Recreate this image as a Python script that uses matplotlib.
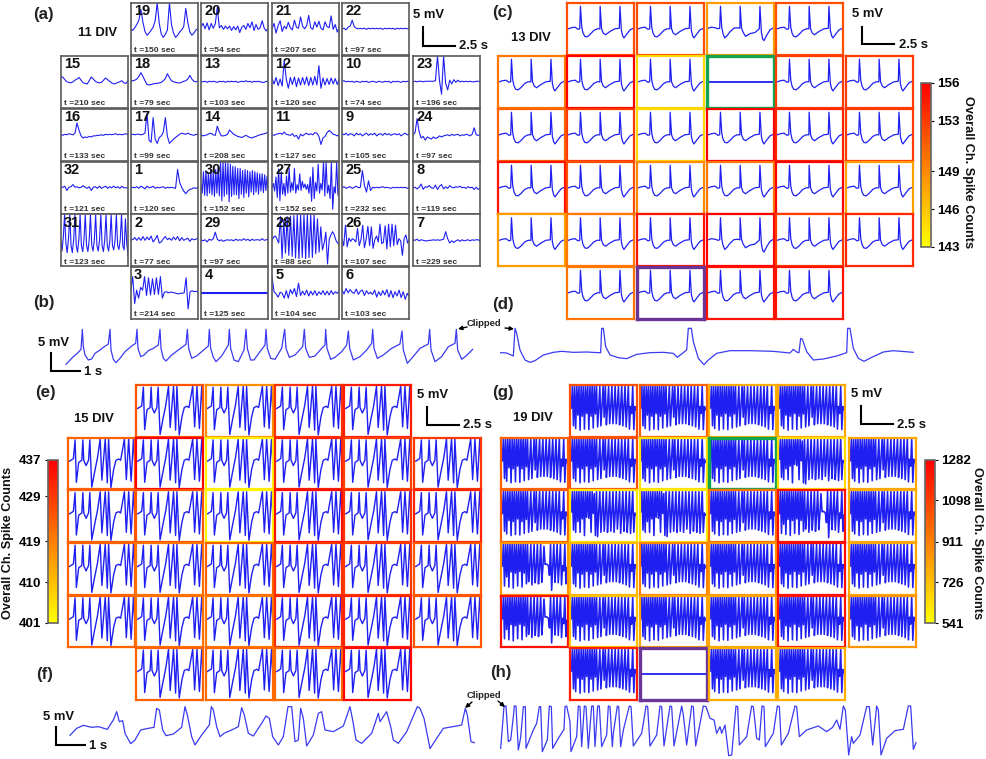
import numpy as np
import matplotlib
matplotlib.use('Agg')
import matplotlib.pyplot as plt
from matplotlib.cm import ScalarMappable
from matplotlib.colors import Normalize

plt.rcParams['font.family'] = ['Liberation Sans', 'DejaVu Sans']
plt.rcParams['font.weight'] = 'bold'

W, H = 986, 759
BLUE = '#1f1ff2'
GREEN = '#12a550'
PURPLE = '#6a3596'

# panel a - channel numbers and recording times on the 6x6 grid
a_channels = [[None, 19, 20, 21, 22, None],
              [15, 18, 13, 12, 10, 23],
              [16, 17, 14, 11, 9, 24],
              [32, 1, 30, 27, 25, 8],
              [31, 2, 29, 28, 26, 7],
              [None, 3, 4, 5, 6, None]]
a_times = {19: 150, 20: 54, 21: 207, 22: 97, 15: 210, 18: 79, 13: 103, 12: 120,
           10: 74, 23: 196, 16: 133, 17: 99, 14: 208, 11: 127, 9: 105, 24: 97,
           32: 121, 1: 120, 30: 152, 27: 152, 25: 232, 8: 119, 31: 123, 2: 77,
           29: 97, 28: 88, 26: 107, 7: 229, 3: 214, 4: 125, 5: 104, 6: 103}

a_traces = {
    19: [0,-.3,.2,.8,1.6,3.6,1.2,-.5,-1.2,-.8,-.3,.3,1.5,4.8,1,-1,-1.6,-1,-.2,4.8,.8,-.8,-1.6,-1.2,-.6,-.2,.4,3.8,1.2,-.6,-1.2,-.8,-.2,0],
    20: [.3,1,0,1.1,-.2,1,.1,.9,4,.2,.6,-.1,.5,0,.5,-.3,.4,-.2,.5,-.7,.3,.6,-.1,1,.2,1.3,-.3,.8,-.1,.2,1.5,.1,-.4,.2],
    21: [0,1,-.8,.6,1.5,-.5,.5,0,1.2,.2,-.2,1.6,.3,.1,2.2,.5,0,.6,2.5,.2,-.1,1.3,.3,1.4,.1,-.2,1.3,.4,.2,2.4,-.1,.8,-.6,.3],
    22: [0,.1,-.2,.3,.5,1.6,.4,.1,0,.1,0,.1,-.1,.1,0,.1,0,.1,0,.1,-.1,.1,0,.1,0,.1,-.1,.1,0,.1,0,.1,0,.1],
    15: [.8,.9,.4,0,-.1,-.2,0,.3,.5,.8,.3,-.2,-.3,-.4,.2,.9,.5,.1,-.1,-.2,-.1,.3,.7,.4,.1,-.2,-.4,-.3,-.1,0,.2,-.2,-.3,.2],
    18: [0,.2,.3,.5,1,1.7,1,.2,-.5,-.6,-.5,-.4,-.3,-.3,-.2,-.1,.2,.6,1.5,.8,.2,0,-.1,-.2,-.2,-.1,.1,.2,.5,1.2,.5,.1,0,.1],
    13: [.1,0,.1,-.1,.1,0,.1,0,-.1,.1,0,.1,-.1,.1,0,.1,0,.1,-.1,0,.1,0,.2,0,.1,-.1,.1,0,.1,0,-.1,-.1,.1,0],
    12: [.6,-.4,.8,-.7,.5,-.8,4,.5,-1.2,.8,-.5,.9,-.9,.7,-.6,.8,-.5,.9,-.7,.8,-.6,1,-.6,3,-1.2,.7,-.6,.6,-.5,.7,-.4,.6,-.5,.5],
    10: [.1,.2,0,.1,0,.1,-.1,.1,0,-.1,.1,0,.1,-.1,0,.1,0,-.1,.1,0,-.1,.1,0,.1,-.2,.1,0,.1,0,-.1,.1,0,.1,0],
    23: [0,.1,0,.1,.1,0,.1,.1,.1,.1,.1,.2,4.8,.2,-2.3,4.8,-.3,-1.5,.3,-.4,.4,-.1,.3,0,.1,0,.1,0,.1,0,0,.1,.1,0],
    16: [.1,-.1,.1,0,.2,.1,0,.3,2.2,.8,-.2,-.6,-.4,-.5,-.3,-.4,-.2,-.2,-.1,-.1,0,-.1,.1,0,.1,0,.1,.2,0,.1,0,.1,.2,0],
    17: [0,.1,0,.1,.1,0,.1,.3,4,-1,-1.4,3.2,-.8,-1.6,-.5,-.2,.5,3.2,-.3,-1.6,-1.2,-.8,-.5,-.2,.1,.3,.2,.1,.3,.1,0,-.1,.1,0],
    14: [0,-.2,-.1,0,.2,.3,0,-.1,1.6,.5,-.2,-.2,-.1,.1,.9,.5,.1,-.1,-.3,-.4,-.5,-.3,-.1,-.3,-.5,-.6,-.4,-.3,-.1,0,.1,.2,.3,.5],
    11: [0,-.1,.1,.2,.3,.1,.5,.1,0,-.1,.2,-.3,-.1,-.8,.1,-.2,.1,.3,0,.2,0,.4,.3,-.3,-1.8,-.6,-.3,.4,.8,.5,.1,0,-.2,0],
    9: [.2,0,.3,-.1,.2,.1,-.2,.3,0,.2,-.2,.1,.3,-.1,.2,0,.3,-.2,.1,.2,-.1,.3,0,.2,-.1,.1,.2,0,.2,-.2,.1,.3,0,.1],
    24: [0,.4,3,.6,-.6,-.3,-1,-.4,-.6,-.8,-.4,-.7,-.5,-.2,-.4,-.2,-.1,0,-.2,.1,-.1,0,.1,-.2,0,-.1,.1,0,-.2,.1,1.3,0,-.1,0],
    32: [0,.1,.3,-.5,.1,.2,.6,.1,.2,0,.1,.4,.1,-.1,.2,-.5,.1,.2,-.1,.3,-.1,.1,.3,-.1,.2,0,.3,0,.2,-.1,.3,0,0,0],
    1: [0,.1,0,.2,-.1,.3,.1,-.2,.3,0,.1,.3,-.1,.1,0,.1,.2,-.1,.1,0,.1,0,-.1,3.4,1,.1,-.6,-1.1,-.6,-.3,-.2,0,-.1,.1],
    30: [.5,-1,3,-1.4,3.2,-1.5,2.8,-1,3.3,-1.3,3,-1.6,3.4,-1,3.8,-1.5,4.8,-2.4,4.8,-1.6,4.8,-1.2,4.6,-2.6,4.4,-1.6,4,-1.3,3.9,-1.3,3.6,-2,3.6,-1.2,3.2,-1.8,3.4,-1,3.2,-1.7,3,-.8,3.2,-1.3,3,-.8,2.8,-1.2,2.6,-.6,2.6,-.9,2.4,-.5,2.2,-.6],
    27: [0,.8,-.6,2,-1.8,3.5,-2.4,3,-1.2,.8,-1.5,2.2,-1,3.6,-.8,1,-.5,3.6,-1,.6,-.4,2.6,-.5,1.2,0,.7,-.3,.6,-1,2,-2.5,3.8,-2,1,-.6,4.4,-1,.8,-.4,4.8,-1.5,4.8,-1,.5,-2,4.8,-4,.2,-1,4.8,-1.4,0],
    25: [0,.2,-.1,.1,.2,-.1,.1,.3,0,.1,3.2,.5,-.8,1.3,-.5,.1,0,.1,0,.1,.2,0,.1,0,-.1,.1,0,.1,0,.1,0,.1,-.1,0],
    8: [0,.1,-.2,.1,.7,-.3,.2,.1,.4,0,-.1,.5,-.3,.3,.6,-.2,.2,-.1,.4,.1,0,.2,.1,.3,0,.1,-.1,.2,0,.1,-.3,.1,-.3,0],
    31: [0,-2,.5,4.8,-.5,-2.3,.2,4.8,-1,-2.3,.1,4.8,-1,-2.2,0,4.8,-1,-2.1,.1,4.8,-1,-2.1,0,4.8,-1,-2,.1,4.8,-1,-2,0,4.8,-1,-2.1,0,4.8,-1,-2,0,4.8,-1,-1.8,0,4.8,-1,-1.7,.1,4.8,-1,-1.8,4,-.5,-2.8],
    2: [.2,.1,.5,0,.5,0,.7,0,.6,.1,.8,-.3,.2,.9,-.5,-.3,.3,.7,.1,.4,0,.6,.1,.7,-.1,.5,0,.2,.4,-.2,.3,.1,.2,.4],
    29: [.1,-.1,.1,-.3,.2,0,.3,1.5,.2,-.1,.1,-.2,0,.1,0,.1,-.1,.2,0,.1,0,.3,0,.2,-.1,.2,0,.1,.1,0,.3,0,.1,.2],
    28: [0,.6,.8,.2,-.5,4.4,-3.4,3.8,-2.4,4.4,-2.8,4.5,-3,4.6,-3.3,4.8,-3.4,4.8,-3.2,4.8,-3.4,4.8,-3.2,4.8,-3.2,4.8,-2.5,4,-2.2,2.5,-1.8,-.5,1.5,-4.4,.2,1,1.6,1,0,-.5,-.8],
    26: [.2,-1,2.8,-1.2,.4,-.2,.3,.1,-.3,2.2,-1,.1,2.8,-1.4,.2,2.6,-1,2.5,-1.5,.1,.8,-.3,3,-.6,-.4,2.7,-1.6,3,-1.2,3,-1,2.8,-.8,.3,-.1,-2.8,.3,1,-.5,.2],
    7: [.1,0,.2,-.1,.1,0,-.1,-.1,0,0,.1,0,.1,0,.1,.2,1.6,.3,-.5,-.1,-.4,-.1,.1,-.2,.1,-.1,0,.1,-.1,.1,0,.1,.1,-.2],
    3: [.2,3,-2,.5,-1,1,.5,3,-.5,2.8,-.4,2.6,-.3,2.8,-.3,3,-1,.1,.2,0,.1,.1,0,-.1,-.2,-.1,-.1,0,2.8,-3,.2,.4,.2,.3,.1],
    4: [0, 0],
    5: [3,.2,-.2,-.8,.1,-.1,-1,.4,-1,.6,-.2,.8,-.7,1.8,-.5,.3,-.4,.5,-.6,.3,-.4,.4,-.5,.2,-.3,.4,-.4,.3,-.4,.4,-.3,.2,-.1,.3],
    6: [.5,-.2,.8,0,.6,.1,-.1,.7,-.3,.3,.5,-.5,.4,-.2,.1,-.3,.5,-.8,.2,-.5,.4,-.4,.6,-.8,.4,-.9,.2,-.6,.5,-.9,.2,-1.2,-.1,-.8],
}

# panel c - overall channel spike counts, nan = no electrode, 0 = marked channel
c_counts = [[np.nan, 152, 152, 148, 152, np.nan],
            [150, 156, 145, 0, 153, 153],
            [151, 153, 145, 156, 154, 153],
            [155, 152, 149, 150, 156, 148],
            [148, 150, 155, 156, 153, 154],
            [np.nan, 150, -1, 155, 155, np.nan]]
c_ticks = [143, 146, 149, 153, 156]
c_t = [.1,.34,.62,.85,.98,1.04,1.14,1.24,1.37,1.55,1.76,2.07,2.33,2.54,2.56,2.67,2.8,2.98,3.32,3.7,4.04,4.09,4.2,4.3,4.4,4.61,4.87,5.13]
c_v = [0,.2,.3,-.1,0,4.2,.3,-.8,-1.4,-1.5,-1.1,-.3,0,0,4.2,0,-.8,-1.1,-.5,0,.1,4.2,-.3,-1.3,-1.7,-1,-.2,.1]
c_v2 = [.1,.3,.2,0,.1,4.2,.2,-.9,-1.7,-1.3,-.6,.1,.2,.1,4.2,.1,-.7,-1.4,-.9,-.7,0,4.2,-.6,-1.9,-2.2,-1.2,-.2,.2]
c_noisy_cells = [(0, 3), (4, 3)]

# panel e
e_counts = [[np.nan, 425, 417, 430, 433, np.nan],
            [423, 437, 403, 432, 428, 429],
            [424, 425, 403, 435, 430, 432],
            [423, 421, 423, 430, 429, 425],
            [423, 421, 420, 431, 432, 425],
            [np.nan, 423, 422, 422, 436, np.nan]]
e_ticks = [401, 410, 419, 429, 437]
e_t = [.13,.44,.57,.67,.85,1.09,1.17,1.24,1.42,1.61,1.71,1.86,2.07,2.3,2.51,2.64,2.77,2.9,3.06,3.16,3.34,3.55,3.73,3.94,4.09,4.38,4.53,4.71,4.9,5.08,5.18]
e_v = [.43,.9,4.4,-3.5,.2,.6,4.4,.6,-.4,.6,4.4,-4.4,-1.7,1.05,4.55,-3.1,.75,4.55,-3.6,4.55,-4.5,-1.1,.6,.85,.6,4.55,-3,4.55,-3.3,4.55,.1]

# panel g
g_counts = [[np.nan, 1050, 1000, 780, 800, np.nan],
            [1000, 1050, 620, 0, 640, 800],
            [1000, 620, 600, 950, 1230, 780],
            [850, 750, 900, 850, 1250, 800],
            [1230, 720, 800, 800, 1220, 850],
            [np.nan, 1200, -1, 780, 780, np.nan]]
g_ticks = [541, 726, 911, 1098, 1282]
g_a = [.5,4.6,-2.8,4.6,-3.3,4.6,-.8,4.6,-3.6,4.6,-1,4.6,-3.4,4.6,-.5,4.6,-3.5,4.6,-1,4.6,-3.2,4.6,-.6,4.6,-3,.5,4.6,-2.8,.8,4.6,-1.2,4.6,-2.6,.6,4.6,-2.4,.8,4.6,-2.4,.8,4.6,-2.4,1,4.6,-2.6,.6,4.6,-2.8,.8,4.6,-3,.8,4.6,-3.4,.8,-.5,4.6,-3.5,.8,.2]
g_b = [.5,4.6,-3.2,4.6,-1.5,4.6,-3.4,4.6,-.6,4.6,-3.6,4.6,-.8,4.6,-3.2,4.6,-.5,4.6,-3.4,4.6,-.8,4.6,-2.8,4.6,-2.4,.6,4.6,-3,.6,4.6,-2.6,.4,4.6,-2.8,.3,4.6,-2.5,.3,4.2,.8,.9,.8,.6,-1.2,4.6,-4,.4,4.6,-2.5,.6,4.6,-2.6,.8,4.6,-3,.6,-.4,4.6,-2.8,.2]
g_c = [.8,4.6,-2.6,4.6,-3,4.6,-1,4.6,-3,4.6,-.5,4.6,-3.6,4.6,-.2,4.6,-.4,4.6,-3,4.6,.5,4.2,-3.6,4.6,-3.8,.8,4.6,-3,.8,4.6,-2.8,.6,4.6,-3,.4,4.6,-2.8,.6,4.6,-3,.5,4.6,-2.4,.8,4.6,-3.2,.4,4.6,-2.8,.4,4.6,-3,.2,4.6,-3.2,.6,4.6,-3,.6,.2]
g_variants = {(1, 4): g_c, (2, 1): g_c, (2, 2): g_c, (3, 0): g_b, (4, 0): g_b, (2, 4): g_b}

b_x = [198,215,235,243,247,250,255,265,275,285,300,310,325,330,333,340,348,360,375,395,407,411,414,422,432,445,460,475,480,483,490,498,515,535,558,562,566,575,590,605,625,628,632,640,648,665,685,688,692,702,715,732,738,742,752,762,780,795,798,802,812,825,845,854,858,868,885,908,913,917,928,945,965,975,977,981,992,1005,1025,1040,1045,1049,1060,1080,1100,1115,1118,1122,1132,1150,1175,1200,1206,1210,1222,1235,1260,1285,1289,1293,1305,1325,1345,1365,1369,1373,1385,1398,1418]
b_y = [133,115,97,88,28,80,105,120,117,100,90,82,72,28,90,118,128,115,95,78,70,28,85,110,105,92,85,75,28,85,115,123,105,90,73,28,85,115,108,95,78,28,85,112,125,108,75,28,85,120,125,90,28,85,120,120,95,75,28,85,115,118,85,28,85,112,105,80,28,85,112,108,85,75,28,85,118,112,95,75,33,85,120,110,90,70,28,85,115,105,85,72,33,90,130,115,85,72,28,90,125,110,80,70,28,90,118,108,88]
d_x = [32,50,70,75,80,90,105,120,135,160,190,215,250,290,325,332,335,340,347,360,385,410,440,480,520,550,562,590,595,604,610,625,642,655,680,720,780,850,900,910,920,927,932,937,950,970,1000,1040,1070,1073,1080,1090,1105,1122,1145,1180,1210,1270]
d_y = [98,99,108,25,40,90,120,127,122,105,97,94,97,96,98,98,25,25,80,105,113,116,103,98,97,100,112,90,25,25,65,115,134,120,100,92,92,94,99,88,96,98,55,58,95,120,117,108,98,25,25,85,115,124,112,96,92,97]
f_x = [210,230,250,275,295,322,340,350,358,368,375,392,405,422,445,462,470,478,488,498,520,545,555,562,575,585,605,628,634,640,650,660,672,695,715,725,733,745,760,785,798,808,818,835,850,864,875,885,895,902,910,920,940,955,965,975,1000,1030,1050,1058,1068,1085,1115,1135,1140,1160,1172,1180,1195,1220,1252,1260,1272,1290,1310,1330,1370,1385,1396,1402,1413,1423]
f_y = [286,265,256,262,260,268,240,215,245,242,280,311,300,270,265,262,205,210,270,287,282,262,200,225,290,315,285,255,200,210,260,290,280,270,260,203,225,280,288,250,228,235,290,315,290,200,200,305,300,205,235,318,285,220,215,270,275,258,200,240,300,310,280,220,245,215,260,300,310,275,200,205,235,326,295,265,258,255,205,225,305,308]
h_x = [32,42,48,55,62,70,73,78,85,92,100,106,108,130,140,148,152,157,172,178,184,188,205,222,225,230,240,243,260,265,270,275,283,288,295,305,310,315,323,328,335,350,355,360,367,370,382,386,392,400,418,423,430,455,460,468,473,480,500,510,515,522,540,545,552,575,580,590,605,610,617,640,648,660,672,680,690,695,705,716,725,738,743,748,770,785,790,800,808,816,822,826,850,862,868,874,895,915,920,928,950,985,1010,1028,1040,1050,1060,1066,1076,1085,1090,1110,1130,1138,1148,1160,1165,1173,1190,1215,1240,1255,1262,1270,1278]
h_y = [325,200,198,305,300,230,198,198,330,292,200,200,325,270,250,200,200,335,300,198,200,325,295,268,200,198,245,335,290,198,200,320,198,200,325,198,198,320,198,198,320,285,198,200,320,280,198,200,320,270,198,200,318,280,250,198,200,318,285,198,200,318,198,200,318,198,225,315,198,200,318,198,200,235,240,280,260,280,255,347,345,198,200,315,290,198,200,295,300,198,200,320,280,198,200,315,280,198,200,290,270,258,275,262,240,268,198,210,345,290,310,285,200,200,315,198,210,345,295,272,268,198,198,328,308]

# pixel edges of the grids
top_ys = [3, 56, 109, 162, 214.5, 267]
low_ys = [385, 437.7, 490.4, 543, 595.7, 648]
a_xs = [60.7, 130.7, 201, 272, 342, 413]
c_xs = [498, 567, 637, 707, 776, 846]
e_xs = [67.7, 136, 205.7, 275, 344, 414]
g_xs = [501, 570, 639.5, 709, 778, 849]
cell_w, cell_h = 67.3, 51.6

fig = plt.figure(figsize=(W / 100, H / 100), dpi=100)
cmap = plt.get_cmap('autumn_r')


def px_axes(x, y, w, h):
    return fig.add_axes([x / W, 1 - (y + h) / H, w / W, h / H])


def make_cell(x, y, color, lw):
    ax = px_axes(x, y, cell_w, cell_h)
    ax.set_xlim(0, 5.2)
    ax.set_ylim(-4.8, 4.8)
    ax.set_xticks([])
    ax.set_yticks([])
    for s in ax.spines.values():
        s.set_color(color)
        s.set_linewidth(lw)
    return ax


# (a)
for r, row in enumerate(a_channels):
    for c, ch in enumerate(row):
        if ch is None:
            continue
        ax = make_cell(a_xs[c], top_ys[r], '#5a5a5a', 1.2)
        vals = a_traces[ch]
        ax.plot(np.linspace(0, 5.2, len(vals)), vals, color=BLUE,
                lw=1.5 if ch == 4 else 0.8)
        ax.text(0.05, 0.98, str(ch), transform=ax.transAxes, fontsize=10.5, va='top', ha='left', color='#111111')
        ax.text(0.05, 0.07, 't =%d sec' % a_times[ch], transform=ax.transAxes, fontsize=6.1, va='center', ha='left', color='#333333')


def draw_grid(counts, xs, ys, ticks, template):
    norm = Normalize(min(ticks), max(ticks))
    for r, row in enumerate(counts):
        for c, n in enumerate(row):
            if np.isnan(n):
                continue
            if n == 0:
                ax = make_cell(xs[c], ys[r], GREEN, 2.4)
            elif n == -1:
                ax = make_cell(xs[c], ys[r], PURPLE, 2.4)
            else:
                ax = make_cell(xs[c], ys[r], cmap(norm(n)), 1.6)
            template(ax, r, c, n)
    return norm


def c_cell(ax, r, c, n):
    if n == 0:
        ax.plot([0.1, 5.1], [0, 0], color=BLUE, lw=1.3)
    elif (r, c) in c_noisy_cells:
        ax.plot(c_t, c_v2, color=BLUE, lw=0.9)
    else:
        ax.plot(c_t, c_v, color=BLUE, lw=0.9)


def e_cell(ax, r, c, n):
    ax.plot(e_t, e_v, color=BLUE, lw=1.0)


def g_cell(ax, r, c, n):
    if n == -1:
        ax.plot([0.1, 5.1], [0, 0], color=BLUE, lw=1.3)
        return
    vals = g_variants.get((r, c), g_a)
    ax.plot(np.linspace(0.1, 5.1, len(vals)), vals, color=BLUE, lw=1.15)


draw_grid(c_counts, c_xs, top_ys, c_ticks, c_cell)
draw_grid(e_counts, e_xs, low_ys, e_ticks, e_cell)
draw_grid(g_counts, g_xs, low_ys, g_ticks, g_cell)


def colorbar(x, y, w, h, ticks, side):
    cax = px_axes(x, y, w, h)
    sm = ScalarMappable(Normalize(min(ticks), max(ticks)), cmap)
    cb = fig.colorbar(sm, cax=cax, ticks=ticks)
    cb.outline.set_edgecolor('#666666')
    cb.outline.set_linewidth(1.2)
    cax.yaxis.set_ticks_position(side)
    cax.yaxis.set_label_position(side)
    cax.tick_params(length=2.5, width=0.8, labelsize=9.6, pad=2)


colorbar(920.5, 83, 10, 164, c_ticks, 'right')
colorbar(47.5, 460, 10, 163, e_ticks, 'left')
colorbar(925, 460, 10, 163, g_ticks, 'right')

# everything else sits on a full figure overlay in pixels
over = fig.add_axes([0, 0, 1, 1])
over.set_xlim(0, W)
over.set_ylim(H, 0)
over.axis('off')
over.patch.set_alpha(0)


def strip(xs, ys, x0, y0):
    over.plot(x0 + np.array(xs) / 3, y0 + np.array(ys) / 3, color='#3a3af0', lw=0.9)


strip(b_x, b_y, 0, 320)
strip(d_x, d_y, 490, 320)
strip(f_x, f_y, 0, 640)
strip(h_x, h_y, 490, 640)

panel_labels = [('(a)', 33, 15), ('(b)', 33, 303), ('(c)', 492, 13), ('(d)', 492, 304),
                ('(e)', 35, 392), ('(f)', 36, 674), ('(g)', 492, 393), ('(h)', 490, 672)]
for s, x, y in panel_labels:
    over.text(x, y, s, fontsize=12.2, va='center', ha='left', color='#222222')

for s, x, y in [('11 DIV', 97, 33), ('13 DIV', 531, 38), ('15 DIV', 94, 419), ('19 DIV', 533, 418)]:
    over.text(x, y, s, fontsize=9.4, va='center', ha='center', color='#111111')

# scale bars: label x, label y, bar x, bar top, bar bottom, bar end, time label
scale_bars = [(413, 15, 423, 27, 45.5, 455, '2.5 s', 459, 46),
              (852, 14, 862, 27, 44, 894, '2.5 s', 899, 45),
              (417, 395, 427, 407, 425, 459, '2.5 s', 463, 425),
              (851, 394, 861, 406, 424, 893, '2.5 s', 897, 425),
              (38, 343, 51, 353, 371, 80, '1 s', 84, 372),
              (43, 717, 56, 727, 745, 85, '1 s', 89, 746)]
for lx, ly, bx, bt, bb, be, ts, tx, ty in scale_bars:
    over.text(lx, ly, '5 mV', fontsize=9.4, va='center', ha='left', color='#111111')
    over.plot([bx, bx, be], [bt, bb, bb], color='black', lw=1.5, solid_joinstyle='miter')
    over.text(tx, ty, ts, fontsize=9.4, va='center', ha='left', color='#111111')

for x, y, rot in [(968, 172, -90), (8, 543, 90), (977, 543, -90)]:
    over.text(x, y, 'Overall Ch. Spike Counts', fontsize=9.2, rotation=rot, va='center', ha='center', color='#111111')

for y in [323, 696]:
    over.text(467, y, 'Clipped', fontsize=6.8, va='center', ha='left', color='#222222')
arrows = [((467, 327), (458, 329)), ((505, 328), (514, 329)), ((472, 702), (465, 708)), ((498, 701), (505, 707))]
for a, b in arrows:
    over.annotate('', xy=b, xytext=a, arrowprops=dict(arrowstyle='-|>', color='black', lw=1, mutation_scale=6, shrinkA=0, shrinkB=0))

fig.savefig('out.png', dpi=100)
